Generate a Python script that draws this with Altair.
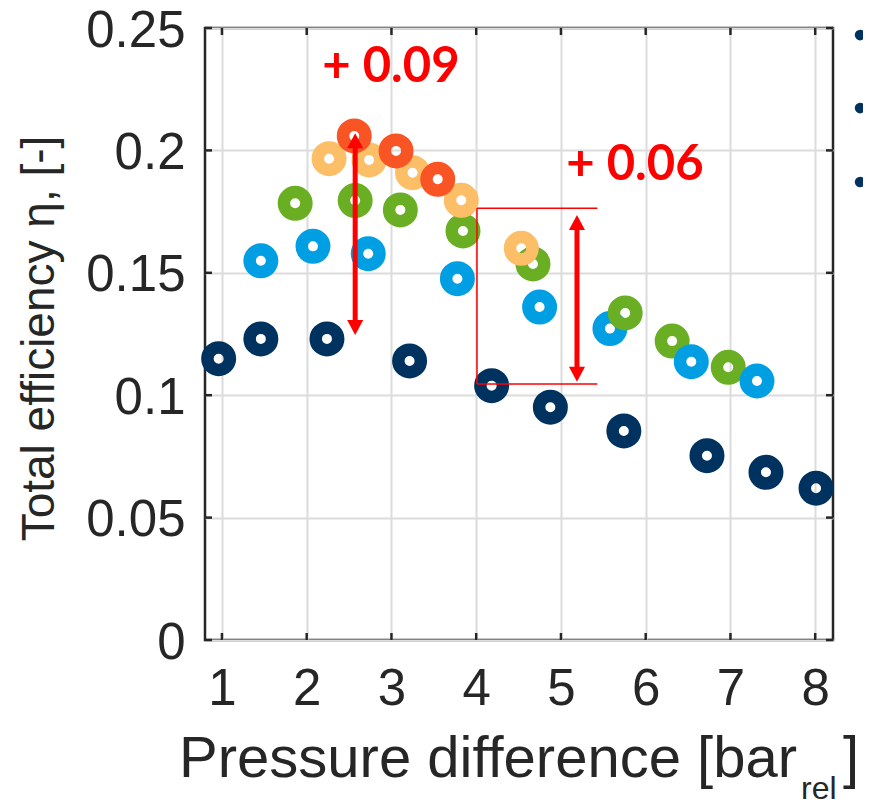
import altair as alt
import pandas as pd

# ---------------- data ----------------
series_names = ["S1", "S2", "S3", "S4", "S5"]
series_colors = ["#00325F", "#009FE3", "#6AAF23", "#FDBE68", "#F95424"]

s1_x = [0.961, 1.459, 2.239, 3.214, 4.182, 4.875, 5.742, 6.723, 7.419, 8.010]
s1_y = [0.1149, 0.1230, 0.1230, 0.1140, 0.1039, 0.0951, 0.0854, 0.0753, 0.0685, 0.0620]

s2_x = [1.459, 2.074, 2.726, 3.778, 4.748, 5.578, 6.538, 7.313]
s2_y = [0.1549, 0.1608, 0.1578, 0.1476, 0.1360, 0.1272, 0.1137, 0.1058]

s3_x = [1.864, 2.572, 3.105, 3.844, 4.670, 5.758, 6.312, 6.974]
s3_y = [0.1784, 0.1795, 0.1757, 0.1671, 0.1536, 0.1336, 0.1221, 0.1114]

s4_x = [2.264, 2.736, 3.249, 3.824, 4.532]
s4_y = [0.1966, 0.1961, 0.1909, 0.1796, 0.1600]

s5_x = [2.561, 3.054, 3.546]
s5_y = [0.2059, 0.1998, 0.1882]

x_ticks = [1, 2, 3, 4, 5, 6, 7, 8]
y_ticks = [0, 0.05, 0.1, 0.15, 0.2, 0.25]
x_domain = [0.8, 8.21]
y_domain = [0, 0.25]

y_title = "Total efficiency η, [-]"
x_title_main = "Pressure difference [bar"
x_title_sub = "rel"
x_title_end = "]"

# annotations
arrow_x = [2.572, 5.189]
arrow_top = [0.2070, 0.1736]
arrow_bottom = [0.1246, 0.1055]

box_x = [4.009, 4.009, 4.009]
box_x2 = [5.430, 5.430, 4.009]
box_y = [0.1764, 0.1046, 0.1764]
box_y2 = [0.1764, 0.1046, 0.1046]

note_text = ["+ 0.09", "+ 0.06"]
note_x = [2.994, 5.873]
note_y = [0.2281, 0.1879]

bullet_x = [8.53, 8.53, 8.53]
bullet_y = [0.2471, 0.2173, 0.1871]

# ---------------- build tables ----------------
def rows(name, xs, ys):
    return [(name, x, y) for x, y in zip(xs, ys)]

ordered = rows("S1", s1_x, s1_y)
ordered += sorted(rows("S2", s2_x, s2_y) + rows("S3", s3_x, s3_y), key=lambda r: r[1])
ordered += rows("S4", s4_x, s4_y)
ordered += rows("S5", s5_x, s5_y)
pts = pd.DataFrame(ordered, columns=["series", "x", "y"])
pts["draw"] = range(len(pts))

W, H = 628, 612
FRAME = "#262626"
RED = "#FF0000"

xs = alt.Scale(domain=x_domain, nice=False, zero=False)
ys = alt.Scale(domain=y_domain, nice=False, zero=False)

points = alt.Chart(pts).mark_point(
    filled=False, size=506, strokeWidth=12.5, opacity=1
).encode(
    x=alt.X("x:Q", scale=xs, axis=alt.Axis(
        values=x_ticks, format="~g", title=None, grid=True, domain=False, ticks=False,
        tickSize=0, labelFontSize=51, labelPadding=24, labelFont="Liberation Sans",
        labelColor=FRAME, gridColor="#DCDCDC", gridWidth=2, labelFlush=False,
        labelOverlap=False)),
    y=alt.Y("y:Q", scale=ys, axis=alt.Axis(
        values=y_ticks, format="~g", grid=True, domain=False, ticks=False, tickSize=0,
        labelFontSize=51, labelPadding=20, labelOffset=3, labelFont="Liberation Sans",
        labelColor=FRAME, gridColor="#DCDCDC", gridWidth=2, labelFlush=False,
        labelOverlap=False,
        title=y_title, titleFont="Liberation Sans", titleFontSize=46,
        titleFontWeight="normal", titleColor=FRAME, titleAngle=270,
        titleX=-152, titleY=310, titleBaseline="alphabetic", titleAlign="center")),
    color=alt.Color("series:N", scale=alt.Scale(domain=series_names, range=series_colors),
                    legend=None),
    order=alt.Order("draw:Q"),
)

# inner tick marks (MATLAB style box)
xt = pd.DataFrame({"x": x_ticks})
yt = pd.DataFrame({"y": y_ticks})
tick_style = dict(color=FRAME, strokeWidth=2.5)
tb = alt.Chart(xt).mark_rule(**tick_style).encode(
    x=alt.X("x:Q", scale=xs), y=alt.value(H), y2=alt.value(H - 7))
tt = alt.Chart(xt).mark_rule(**tick_style).encode(
    x=alt.X("x:Q", scale=xs), y=alt.value(0), y2=alt.value(7))
tl = alt.Chart(yt).mark_rule(**tick_style).encode(
    y=alt.Y("y:Q", scale=ys), x=alt.value(0), x2=alt.value(7))
tr = alt.Chart(yt).mark_rule(**tick_style).encode(
    y=alt.Y("y:Q", scale=ys), x=alt.value(W), x2=alt.value(W - 7))

# box lines
box_df = pd.DataFrame({"x": box_x, "x2": box_x2, "y": box_y, "y2": box_y2})
box = alt.Chart(box_df).mark_rule(color=RED, strokeWidth=1.5).encode(
    x=alt.X("x:Q", scale=xs), x2="x2:Q",
    y=alt.Y("y:Q", scale=ys), y2="y2:Q")

# arrows
arr_df = pd.DataFrame({"x": arrow_x, "y": arrow_top, "bottom": arrow_bottom})
shaft = alt.Chart(arr_df).mark_rule(color=RED, strokeWidth=5, yOffset=13, y2Offset=-13).encode(
    x=alt.X("x:Q", scale=xs),
    y=alt.Y("y:Q", scale=ys), y2="bottom:Q")
head_up = alt.Chart(arr_df).mark_point(
    shape="M0,0L-1.07,2L1.07,2Z", filled=True, size=225, color=RED, opacity=1, strokeWidth=0
).encode(x=alt.X("x:Q", scale=xs), y=alt.Y("y:Q", scale=ys))
head_down = alt.Chart(arr_df).mark_point(
    shape="M0,0L-1.07,-2L1.07,-2Z", filled=True, size=225, color=RED, opacity=1, strokeWidth=0
).encode(x=alt.X("x:Q", scale=xs), y=alt.Y("bottom:Q", scale=ys))

# annotation texts
note_df = pd.DataFrame({"t": note_text, "x": note_x, "y": note_y})
notes = alt.Chart(note_df).mark_text(
    font="Lato", fontWeight="bold", fontSize=49, color=RED,
    align="center", baseline="alphabetic"
).encode(x=alt.X("x:Q", scale=xs), y=alt.Y("y:Q", scale=ys), text="t:N")

# cut-off legend bullets at the right edge
bul_df = pd.DataFrame({"x": bullet_x, "y": bullet_y})
bullets = alt.Chart(bul_df).mark_circle(size=114, color=series_colors[0], opacity=1).encode(
    x=alt.X("x:Q", scale=xs), y=alt.Y("y:Q", scale=ys))

# x-axis title with subscript
t_main = alt.Chart(pd.DataFrame({"t": [x_title_main]})).mark_text(
    font="Liberation Sans", fontSize=58, color=FRAME, align="right", baseline="alphabetic"
).encode(text="t:N", x=alt.value(592), y=alt.value(749))
t_sub = alt.Chart(pd.DataFrame({"t": [x_title_sub]})).mark_text(
    font="Liberation Sans", fontSize=32, color=FRAME, align="left", baseline="alphabetic"
).encode(text="t:N", x=alt.value(596), y=alt.value(771))
t_end = alt.Chart(pd.DataFrame({"t": [x_title_end]})).mark_text(
    font="Liberation Sans", fontSize=58, color=FRAME, align="left", baseline="alphabetic"
).encode(text="t:N", x=alt.value(638), y=alt.value(749))

chart = alt.layer(
    points, tb, tt, tl, tr, box, shaft, head_up, head_down, notes, bullets,
    t_main, t_sub, t_end
).properties(
    width=W, height=H,
    autosize=alt.AutoSizeParams(type="none"),
    padding={"left": 197, "top": 20, "right": 30, "bottom": 165},
    background="white",
).configure_view(stroke=FRAME, strokeWidth=2.5)

chart.save("out.html", embed_options={"renderer": "svg", "actions": False})
